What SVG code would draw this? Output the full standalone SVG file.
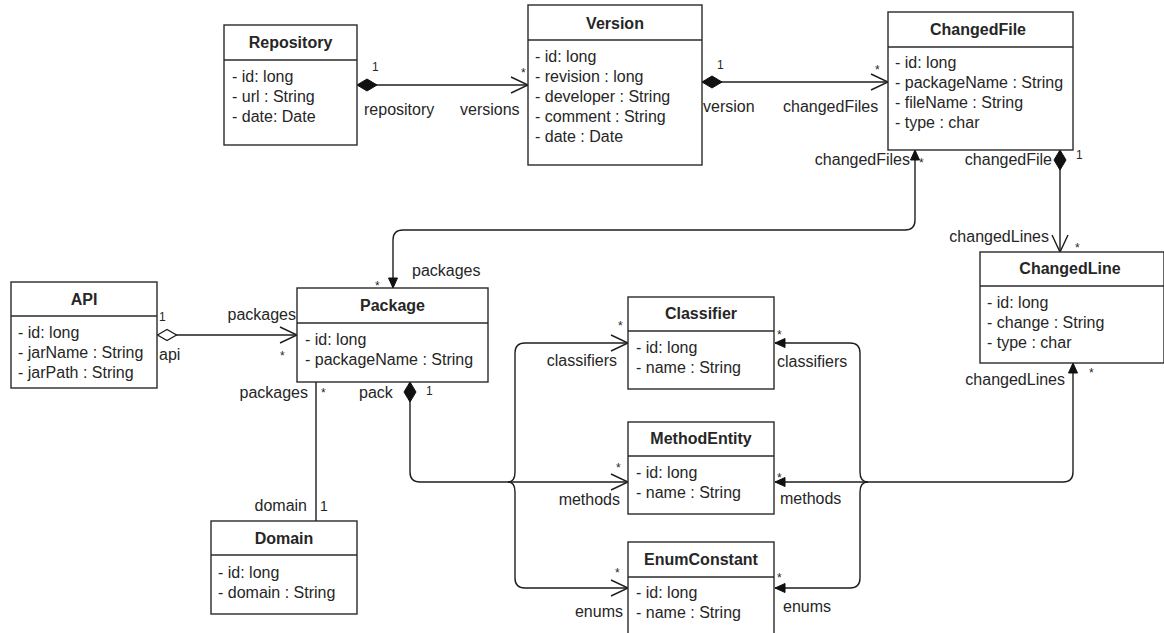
<svg xmlns="http://www.w3.org/2000/svg" width="1164" height="633" viewBox="0 0 1164 633">
<style>
.box{fill:#fff;stroke:#2a2a2a;stroke-width:1.4}
.div{stroke:#2a2a2a;stroke-width:1.4}
text{font-family:"Liberation Sans",Arial,Helvetica,sans-serif;fill:#262626}
.t{font-size:16px;font-weight:bold;text-anchor:middle}
.a{font-size:16px}
.l{font-size:16px}
.m{font-size:12px}
.e{text-anchor:end}
.c{fill:none;stroke:#1e1e1e;stroke-width:1.4}
</style>
<defs>
<marker id="open" viewBox="-18 -10 20 20" markerWidth="20" markerHeight="20" refX="0" refY="0" orient="auto" markerUnits="userSpaceOnUse">
<path d="M-17,-8 L0,0 L-17,8" fill="none" stroke="#1e1e1e" stroke-width="1.4"/>
</marker>
<marker id="dia" viewBox="-1 -8 22 16" markerWidth="22" markerHeight="16" refX="0" refY="0" orient="auto" markerUnits="userSpaceOnUse">
<path d="M0,0 L10,-6 L20,0 L10,6 Z" fill="#111" stroke="#111" stroke-width="1"/>
</marker>
<marker id="hdia" viewBox="-1 -8 22 16" markerWidth="22" markerHeight="16" refX="0" refY="0" orient="auto" markerUnits="userSpaceOnUse">
<path d="M0.5,0 L10,-5.5 L19.5,0 L10,5.5 Z" fill="#fff" stroke="#1e1e1e" stroke-width="1.3"/>
</marker>
<marker id="fa" viewBox="-12 -6 13 12" markerWidth="13" markerHeight="12" refX="0" refY="0" orient="auto-start-reverse" markerUnits="userSpaceOnUse">
<path d="M-10,-4.5 L0,0 L-10,4.5 Z" fill="#111" stroke="#111" stroke-width="1"/>
</marker>
</defs>
<rect width="1164" height="633" fill="#fff"/>

<g id="connectors">
<path class="c" d="M357,85 H528" marker-start="url(#dia)" marker-end="url(#open)"/>
<path class="c" d="M702,82 H888" marker-start="url(#dia)" marker-end="url(#open)"/>
<path class="c" d="M1060,150 V252" marker-start="url(#dia)" marker-end="url(#open)"/>
<path class="c" d="M915,150 V220 Q915,230 905,230 H403 Q393,230 393,240 V288" marker-start="url(#fa)" marker-end="url(#fa)"/>
<path class="c" d="M157,335 H297" marker-start="url(#hdia)" marker-end="url(#open)"/>
<path class="c" d="M316,382 V521"/>
<path class="c" d="M410,382 V472 Q410,482 420,482 H628" marker-start="url(#dia)" marker-end="url(#open)"/>
<path class="c" d="M508,482 Q515,482 515,472 V353 Q515,343 525,343 H628" marker-end="url(#open)"/>
<path class="c" d="M508,482 Q515,482 515,492 V578 Q515,588 525,588 H628" marker-end="url(#open)"/>
<path class="c" d="M1073,363 V472 Q1073,482 1063,482 H775" marker-start="url(#fa)" marker-end="url(#fa)"/>
<path class="c" d="M868,482 Q860,482 860,472 V353 Q860,343 850,343 H775" marker-end="url(#fa)"/>
<path class="c" d="M868,482 Q860,482 860,492 V578 Q860,588 850,588 H775" marker-end="url(#fa)"/>
</g>

<g id="labels">
<text class="m" x="372" y="71">1</text>
<text class="l" x="364" y="115">repository</text>
<text class="l" x="460" y="115">versions</text>
<text class="m" x="521" y="77">*</text>
<text class="m" x="717" y="69">1</text>
<text class="l" x="703" y="112">version</text>
<text class="l" x="783" y="112">changedFiles</text>
<text class="m" x="875" y="74">*</text>
<text class="l e" x="910" y="165">changedFiles</text>
<text class="m" x="919" y="167">*</text>
<text class="l e" x="1052" y="165">changedFile</text>
<text class="m" x="1076" y="159">1</text>
<text class="l e" x="1049" y="242">changedLines</text>
<text class="m" x="1075" y="252">*</text>
<text class="l" x="412" y="276">packages</text>
<text class="m" x="375" y="290">*</text>
<text class="m" x="159" y="321">1</text>
<text class="l" x="159" y="360">api</text>
<text class="l e" x="296" y="320">packages</text>
<text class="m" x="280" y="360">*</text>
<text class="l e" x="308" y="398">packages</text>
<text class="m" x="321" y="397">*</text>
<text class="l" x="359" y="398">pack</text>
<text class="m" x="426" y="395">1</text>
<text class="l e" x="307" y="511">domain</text>
<text class="a" x="320" y="511" style="font-size:14px">1</text>
<text class="l e" x="617" y="366">classifiers</text>
<text class="m" x="618" y="330">*</text>
<text class="l e" x="620" y="505">methods</text>
<text class="m" x="616" y="472">*</text>
<text class="l e" x="623" y="617">enums</text>
<text class="m" x="615" y="577">*</text>
<text class="l" x="777" y="367">classifiers</text>
<text class="m" x="777" y="339">*</text>
<text class="l" x="780" y="504">methods</text>
<text class="m" x="777" y="482">*</text>
<text class="l" x="783" y="612">enums</text>
<text class="m" x="777" y="582">*</text>
<text class="l e" x="1065" y="385">changedLines</text>
<text class="m" x="1089" y="377">*</text>
</g>

<g id="Repository">
<rect class="box" x="224" y="25" width="133" height="120"/>
<line class="div" x1="224" y1="60" x2="357" y2="60"/>
<text class="t" x="290.5" y="48">Repository</text>
<text class="a" x="232" y="82">- id: long</text>
<text class="a" x="232" y="102">- url : String</text>
<text class="a" x="232" y="122">- date: Date</text>
</g>

<g id="Version">
<rect class="box" x="528" y="5" width="174" height="160"/>
<line class="div" x1="528" y1="40" x2="702" y2="40"/>
<text class="t" x="615" y="29">Version</text>
<text class="a" x="535" y="62">- id: long</text>
<text class="a" x="535" y="82">- revision : long</text>
<text class="a" x="535" y="102">- developer : String</text>
<text class="a" x="535" y="122">- comment : String</text>
<text class="a" x="535" y="142">- date : Date</text>
</g>

<g id="ChangedFile">
<rect class="box" x="888" y="12" width="185" height="138"/>
<line class="div" x1="888" y1="47" x2="1073" y2="47"/>
<text class="t" x="978" y="35">ChangedFile</text>
<text class="a" x="895" y="68">- id: long</text>
<text class="a" x="895" y="88">- packageName : String</text>
<text class="a" x="895" y="108">- fileName : String</text>
<text class="a" x="895" y="128">- type : char</text>
</g>

<g id="ChangedLine">
<rect class="box" x="980" y="252" width="184" height="111"/>
<line class="div" x1="980" y1="286" x2="1164" y2="286"/>
<text class="t" x="1070" y="274">ChangedLine</text>
<text class="a" x="987" y="308">- id: long</text>
<text class="a" x="987" y="328">- change : String</text>
<text class="a" x="987" y="348">- type : char</text>
</g>

<g id="API">
<rect class="box" x="11" y="282" width="146" height="106"/>
<line class="div" x1="11" y1="316" x2="157" y2="316"/>
<text class="t" x="84" y="305">API</text>
<text class="a" x="18" y="338">- id: long</text>
<text class="a" x="18" y="358">- jarName : String</text>
<text class="a" x="18" y="378">- jarPath : String</text>
</g>

<g id="Package">
<rect class="box" x="297" y="288" width="191" height="94"/>
<line class="div" x1="297" y1="323" x2="488" y2="323"/>
<text class="t" x="392.5" y="311">Package</text>
<text class="a" x="305" y="345">- id: long</text>
<text class="a" x="305" y="365">- packageName : String</text>
</g>

<g id="Domain">
<rect class="box" x="211" y="521" width="146" height="93"/>
<line class="div" x1="211" y1="555" x2="357" y2="555"/>
<text class="t" x="284" y="544">Domain</text>
<text class="a" x="218" y="578">- id: long</text>
<text class="a" x="218" y="598">- domain : String</text>
</g>

<g id="Classifier">
<rect class="box" x="628" y="297" width="146" height="92"/>
<line class="div" x1="628" y1="331" x2="774" y2="331"/>
<text class="t" x="701" y="319">Classifier</text>
<text class="a" x="636" y="353">- id: long</text>
<text class="a" x="636" y="373">- name : String</text>
</g>

<g id="MethodEntity">
<rect class="box" x="628" y="422" width="146" height="92"/>
<line class="div" x1="628" y1="456" x2="774" y2="456"/>
<text class="t" x="701" y="444">MethodEntity</text>
<text class="a" x="636" y="478">- id: long</text>
<text class="a" x="636" y="498">- name : String</text>
</g>

<g id="EnumConstant">
<rect class="box" x="628" y="542" width="146" height="100"/>
<line class="div" x1="628" y1="577" x2="774" y2="577"/>
<text class="t" x="701" y="565">EnumConstant</text>
<text class="a" x="636" y="598">- id: long</text>
<text class="a" x="636" y="618">- name : String</text>
</g>
</svg>
